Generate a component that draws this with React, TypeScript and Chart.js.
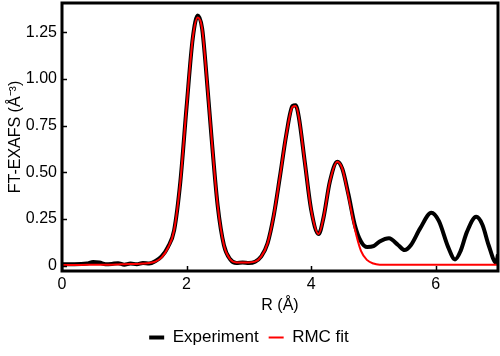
import React, { useEffect, useRef } from "react";
import { Chart, registerables } from "chart.js";

Chart.register(...registerables);

const rValues = [
  0.0, 0.2, 0.4, 0.5, 0.6, 0.7, 0.8, 0.9, 1.0, 1.1, 1.2, 1.3, 1.4, 1.5, 1.6, 1.7, 1.8, 1.9, 2.0, 2.1, 2.18,
  2.25, 2.3, 2.4, 2.5, 2.6, 2.7, 2.8, 2.9, 3.0, 3.1, 3.2, 3.3, 3.4, 3.5, 3.6, 3.7, 3.75, 3.8, 3.9, 4.0,
  4.12, 4.2, 4.3, 4.42, 4.5, 4.6, 4.7, 4.8, 4.9, 5.0, 5.1, 5.25, 5.4, 5.5, 5.6, 5.75, 5.93, 6.05, 6.2,
  6.31, 6.4, 6.5, 6.65, 6.75, 6.85, 6.97, 7.0,
];

const experimentValues = [
  0.008, 0.008, 0.012, 0.02, 0.018, 0.008, 0.01, 0.014, 0.006, 0.012, 0.008, 0.015, 0.012, 0.025, 0.05,
  0.1, 0.19, 0.45, 0.85, 1.22, 1.34, 1.27, 1.1, 0.69, 0.32, 0.11, 0.035, 0.015, 0.018, 0.015, 0.022,
  0.05, 0.12, 0.27, 0.48, 0.7, 0.855, 0.86, 0.8, 0.55, 0.3, 0.17, 0.26, 0.45, 0.557, 0.52, 0.38, 0.22,
  0.13, 0.1, 0.105, 0.13, 0.147, 0.11, 0.084, 0.11, 0.2, 0.284, 0.24, 0.1, 0.034, 0.08, 0.18, 0.262,
  0.22, 0.11, 0.016, 0.06,
];

const fitValues = [
  0.004, 0.004, 0.005, 0.005, 0.005, 0.006, 0.006, 0.007, 0.008, 0.009, 0.01, 0.012, 0.015, 0.022, 0.045,
  0.095, 0.19, 0.45, 0.85, 1.22, 1.33, 1.27, 1.1, 0.69, 0.32, 0.11, 0.035, 0.018, 0.018, 0.018, 0.022,
  0.05, 0.12, 0.27, 0.48, 0.7, 0.85, 0.855, 0.8, 0.55, 0.3, 0.17, 0.26, 0.45, 0.557, 0.52, 0.37, 0.2,
  0.08, 0.03, 0.012, 0.006, 0.005, 0.005, 0.005, 0.005, 0.005, 0.005, 0.005, 0.005, 0.005, 0.005,
  0.005, 0.005, 0.005, 0.005, 0.005, 0.005,
];

const xTickValues = [0, 2, 4, 6];
const yTickValues = [0, 0.25, 0.5, 0.75, 1.0, 1.25];

const FONT = "'Liberation Sans', Arial, sans-serif";

const framePlugin = {
  id: "frameTicks",
  afterDatasetsDraw(chart: any) {
    const { ctx, chartArea } = chart;
    const { left, right, top, bottom } = chartArea;
    const xs = chart.scales.x;
    const ys = chart.scales.y;
    ctx.save();
    ctx.strokeStyle = "#000";
    ctx.lineWidth = 1.5;
    ctx.beginPath();
    xTickValues.forEach((v) => {
      const px = Math.round(xs.getPixelForValue(v)) + 0.5;
      ctx.moveTo(px, bottom);
      ctx.lineTo(px, bottom - 5);
    });
    yTickValues.forEach((v) => {
      const py = Math.round(ys.getPixelForValue(v)) + 0.5;
      ctx.moveTo(left, py);
      ctx.lineTo(left + 5, py);
    });
    ctx.stroke();
    ctx.lineWidth = 3;
    ctx.strokeRect(left, top, right - left, bottom - top);
    ctx.restore();
  },
};

export default function App() {
  const canvasRef = useRef<HTMLCanvasElement | null>(null);

  useEffect(() => {
    document.body.style.margin = "0";
    const canvas = canvasRef.current;
    if (!canvas) return;
    const chart = new Chart(canvas, {
      type: "line",
      data: {
        datasets: [
          {
            label: "Experiment",
            data: rValues.map((x, i) => ({ x, y: experimentValues[i] })),
            borderColor: "#000000",
            backgroundColor: "#000000",
            borderWidth: 4,
            pointRadius: 0,
            cubicInterpolationMode: "monotone",
            order: 2,
          },
          {
            label: "RMC fit",
            data: rValues.map((x, i) => ({ x, y: fitValues[i] })),
            borderColor: "#ff0000",
            backgroundColor: "#ff0000",
            borderWidth: 2,
            pointRadius: 0,
            cubicInterpolationMode: "monotone",
            order: 1,
          },
        ],
      },
      plugins: [framePlugin],
      options: {
        animation: false,
        responsive: false,
        maintainAspectRatio: false,
        layout: { padding: { top: 3, right: 2, left: 0, bottom: 0 } },
        plugins: {
          tooltip: { enabled: false },
          legend: {
            position: "bottom",
            labels: {
              usePointStyle: true,
              pointStyle: "line",
              pointStyleWidth: 15,
              color: "#000",
              font: { family: FONT, size: 17 },
              padding: 10,
              sort: (a: any, b: any) => a.datasetIndex - b.datasetIndex,
            },
          },
        },
        scales: {
          x: {
            type: "linear",
            min: 0,
            max: 7,
            afterBuildTicks: (scale: any) => {
              scale.ticks = xTickValues.map((v) => ({ value: v }));
            },
            afterFit: (scale: any) => {
              scale.height = 48;
            },
            ticks: {
              color: "#000",
              font: { family: FONT, size: 16 },
              padding: 4,
              callback: (v: any) => String(v),
            },
            grid: { display: false, drawTicks: false },
            border: { display: false },
            title: {
              display: true,
              text: "R (Å)",
              color: "#000",
              font: { family: FONT, size: 16 },
              padding: { top: 0, bottom: 4 },
            },
          },
          y: {
            type: "linear",
            min: -0.028,
            max: 1.407,
            afterBuildTicks: (scale: any) => {
              scale.ticks = yTickValues.map((v) => ({ value: v }));
            },
            afterFit: (scale: any) => {
              scale.width = 62;
              scale.paddingTop = 0;
              scale.paddingBottom = 0;
            },
            ticks: {
              color: "#000",
              font: { family: FONT, size: 16 },
              padding: 5,
              callback: (v: any) => (v === 0 ? "0" : Number(v).toFixed(2)),
            },
            grid: { display: false, drawTicks: false },
            border: { display: false },
            title: {
              display: true,
              text: "FT-EXAFS (Å⁻³)",
              color: "#000",
              font: { family: FONT, size: 16 },
              padding: { top: 6, bottom: 0 },
            },
          },
        },
      },
    });
    return () => chart.destroy();
  }, []);

  return (
    <div style={{ width: 500, height: 356 }}>
      <canvas ref={canvasRef} width={500} height={356} style={{ display: "block" }} />
    </div>
  );
}
